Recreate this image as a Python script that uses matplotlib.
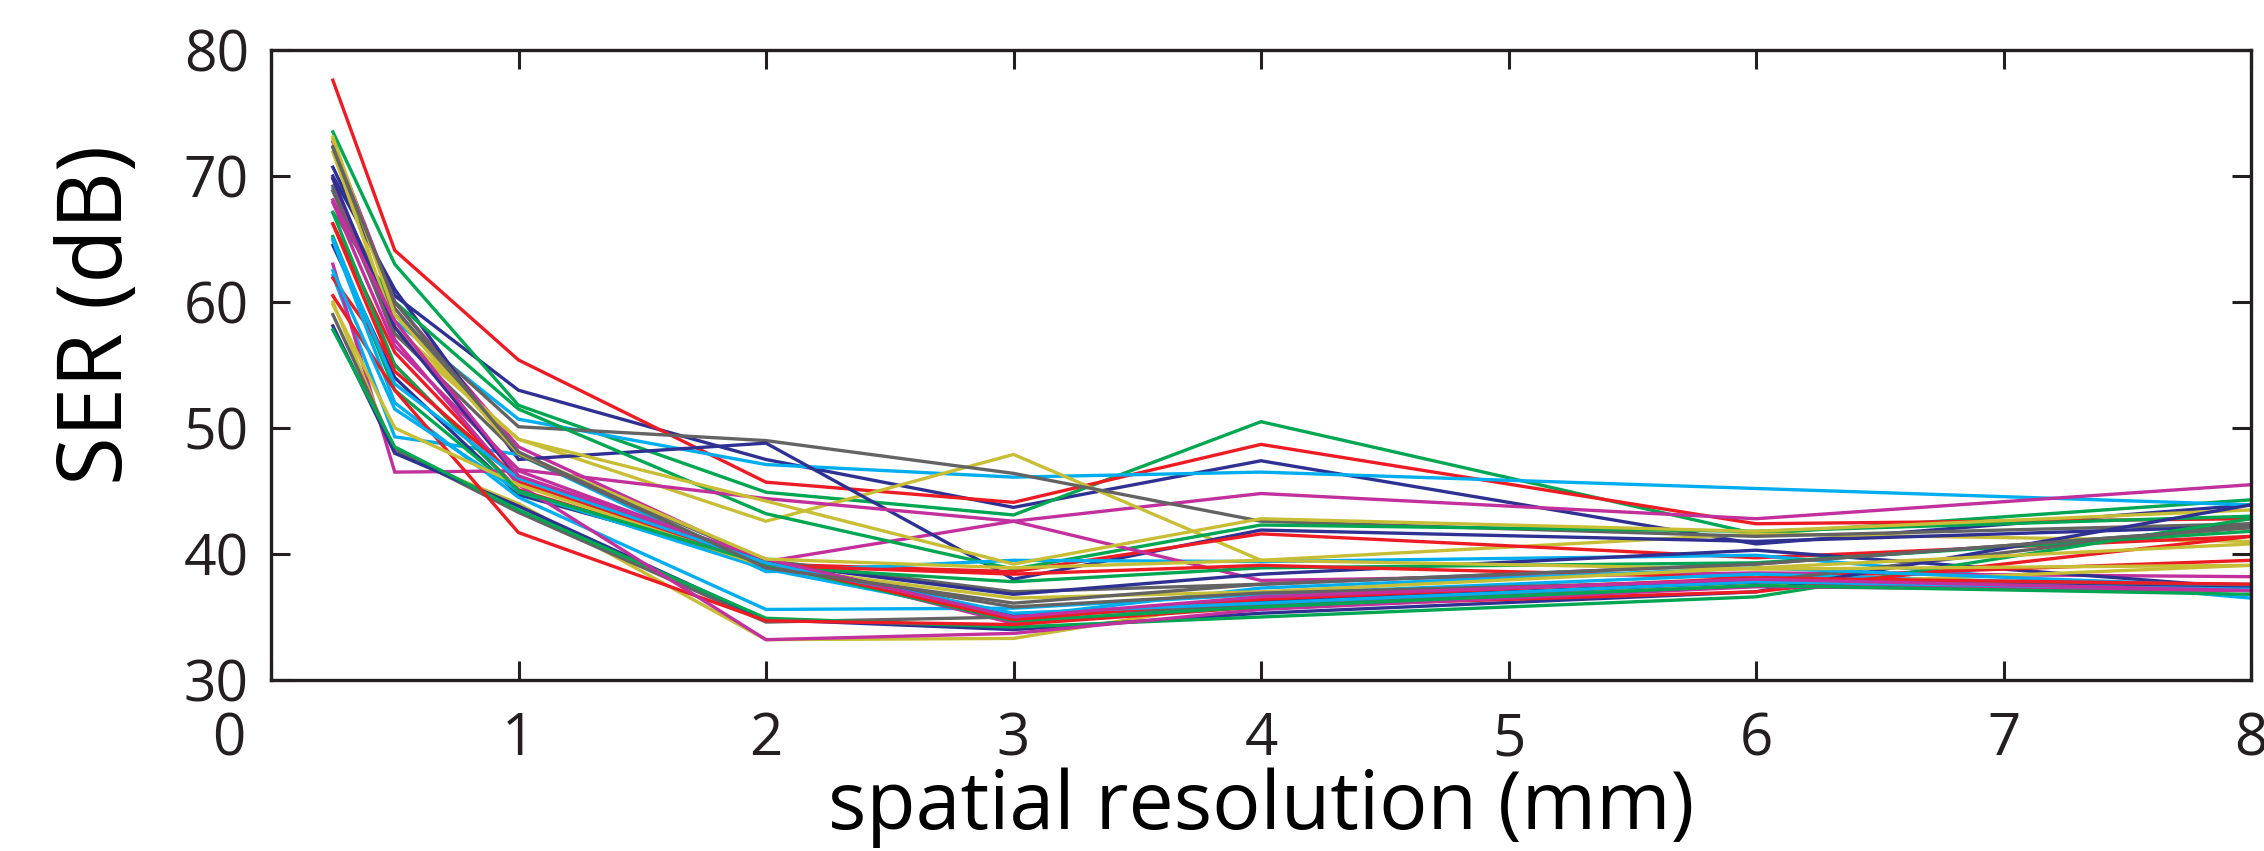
import numpy as np
import matplotlib
matplotlib.use("Agg")
import matplotlib.pyplot as plt
import matplotlib.transforms as mtrans

# spatial resolution (mm) where each curve was sampled
res_mm = [0.25, 0.5, 1, 2, 3, 4, 6, 8]

# SER (dB) curves, one list per run
ser_db = [
    [70.7, 60.5, 53.0, 47.5, 43.7, 47.4, 40.8, 43.9],
    [73.5, 63.0, 51.8, 44.9, 43.1, 50.5, 41.6, 44.3],
    [77.6, 64.1, 55.4, 45.7, 44.1, 48.7, 42.4, 42.8],
    [69.0, 58.5, 50.7, 47.1, 46.1, 46.5, 45.2, 43.9],
    [72.7, 60.0, 48.5, 39.4, 42.6, 44.8, 42.8, 45.5],
    [72.9, 57.5, 49.1, 42.6, 47.9, 39.5, 41.6, 41.0],
    [69.2, 59.0, 50.1, 49.0, 46.4, 42.6, 41.4, 42.4],
    [70.0, 61.0, 47.5, 48.8, 38.0, 41.9, 41.0, 42.2],
    [67.1, 60.0, 51.5, 43.2, 38.8, 42.3, 41.8, 43.0],
    [66.2, 56.0, 45.7, 39.2, 38.6, 41.6, 39.7, 41.4],
    [62.1, 49.3, 47.9, 38.6, 39.5, 39.4, 39.9, 36.5],
    [67.9, 56.5, 46.7, 44.4, 42.6, 37.9, 38.5, 38.2],
    [71.9, 58.0, 49.1, 44.2, 39.2, 42.8, 41.8, 43.5],
    [72.3, 59.5, 47.9, 39.5, 37.0, 37.6, 39.2, 42.1],
    [64.5, 54.0, 44.7, 39.3, 36.8, 38.4, 40.3, 37.3],
    [65.2, 53.0, 44.9, 39.0, 37.8, 38.9, 39.3, 41.8],
    [61.9, 55.0, 45.1, 39.1, 38.4, 39.1, 38.1, 39.5],
    [64.9, 52.0, 44.5, 35.6, 35.7, 36.8, 38.4, 37.3],
    [63.0, 46.5, 46.6, 39.4, 34.5, 36.0, 37.6, 37.1],
    [60.0, 48.0, 44.0, 33.2, 33.3, 36.5, 37.5, 39.1],
    [59.0, 48.3, 43.3, 34.6, 35.0, 36.0, 37.8, 42.4],
    [58.1, 48.0, 43.8, 34.8, 34.0, 35.3, 37.0, 43.9],
    [57.8, 48.5, 43.5, 34.9, 34.2, 35.0, 36.6, 42.8],
    [60.5, 53.0, 41.7, 34.7, 34.4, 35.8, 37.0, 41.4],
    [62.5, 51.5, 45.0, 38.8, 35.0, 37.3, 38.9, 37.4],
    [69.8, 57.0, 45.5, 33.2, 33.7, 35.6, 37.4, 37.1],
    [59.8, 50.0, 45.5, 39.0, 36.5, 37.0, 38.9, 40.8],
    [68.8, 57.5, 47.9, 39.0, 35.8, 36.9, 37.9, 37.6],
    [69.8, 58.0, 46.0, 39.5, 35.2, 36.2, 37.8, 37.3],
    [67.1, 55.0, 45.0, 39.2, 34.7, 35.8, 37.5, 36.8],
    [66.2, 54.5, 46.0, 39.3, 34.8, 36.4, 38.1, 37.6],
    [65.0, 53.5, 46.0, 39.3, 35.3, 36.1, 37.8, 37.2],
    [68.1, 58.5, 46.2, 39.6, 35.0, 36.6, 38.0, 37.1],
    [73.1, 59.0, 48.0, 39.6, 38.9, 39.5, 38.8, 39.1],
    [72.3, 60.0, 48.1, 38.9, 36.1, 37.6, 39.2, 42.1],
]

xticks = [0, 1, 2, 3, 4, 5, 6, 7, 8]
yticks = [30, 40, 50, 60, 70, 80]

# matlab "lines" order as it comes out in print
cols = ['#2e3192', '#00a651', '#ed1c24', '#00aeef', '#c1309c', '#c8be35', '#636363']

plt.rcParams['font.family'] = 'Open Sans'

fig = plt.figure(figsize=(22.64, 8.51), dpi=100)
ax = fig.add_axes([271/2264, 1-680/851, (2251-271)/2264, 630/851])

for i, s in enumerate(ser_db):
    ax.plot(res_mm, s, color=cols[i % len(cols)], lw=2.4, solid_joinstyle='miter')

ax.set_xlim(0, 8)
ax.set_ylim(30, 80)
ax.set_xticks(xticks)
ax.set_yticks(yticks)
ax.tick_params(direction='in', length=14, width=2.2, top=True, right=True,
               colors='#231f20')
ax.tick_params(axis='y', pad=16, labelsize=41)
ax.tick_params(axis='x', pad=22, labelsize=42)
for sp in ax.spines.values():
    sp.set_linewidth(2.4)
    sp.set_color('#231f20')

# the "0" sits left of the corner in the original
fig.canvas.draw()
lab0 = ax.get_xticklabels()[0]
lab0.set_transform(lab0.get_transform() +
                   mtrans.ScaledTranslation(-0.42, 0, fig.dpi_scale_trans))

ax.set_ylabel('SER (dB)', fontsize=64)
ax.yaxis.set_label_coords(-0.064, 0.58)
ax.set_xlabel('spatial resolution (mm)', fontsize=58, va='baseline')
ax.xaxis.set_label_coords(0.5, -0.236)

fig.savefig('out.png', dpi=100)
